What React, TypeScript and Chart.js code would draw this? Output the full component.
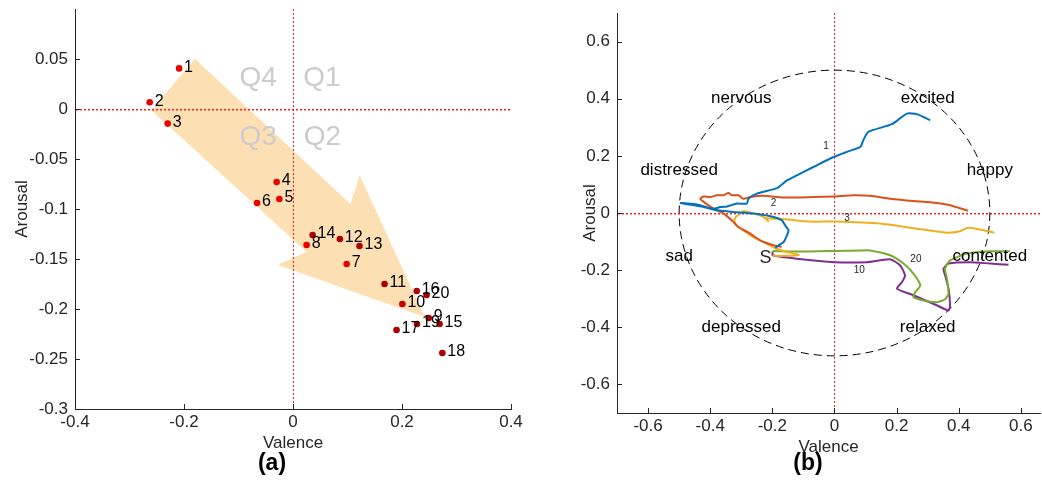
import React, { useEffect, useRef } from 'react';
import { Chart, registerables } from 'chart.js';

Chart.register(...registerables);

const FONT_FAMILY = "'Liberation Sans', Arial, Helvetica, sans-serif";
const AXIS_COLOR = 'rgb(38,38,38)';
const ZERO_LINE_COLOR = 'rgb(255,30,30)';
const ARROW_COLOR = 'rgb(253,223,180)';

// ---------------- Panel (a) ----------------
const sessionLabels = ['1', '2', '3', '4', '5', '6', '7', '8', '9', '10', '11', '12', '13', '14', '15', '16', '17', '18', '19', '20'];
const sessionValence = [-0.209, -0.263, -0.23, -0.03, -0.025, -0.066, 0.0985, 0.025, 0.249, 0.2007, 0.168, 0.086, 0.122, 0.036, 0.269, 0.227, 0.19, 0.274, 0.2275, 0.245];
const sessionArousal = [0.0406, 0.0067, -0.0146, -0.073, -0.09, -0.094, -0.155, -0.136, -0.209, -0.195, -0.175, -0.13, -0.137, -0.126, -0.215, -0.182, -0.221, -0.244, -0.215, -0.186];
const sessionColors = [
  'rgb(235,0,0)', 'rgb(235,0,0)', 'rgb(235,0,0)', 'rgb(235,0,0)', 'rgb(235,0,0)', 'rgb(235,0,0)', 'rgb(235,0,0)', 'rgb(230,0,0)',
  'rgb(175,0,0)', 'rgb(200,0,0)', 'rgb(175,0,0)', 'rgb(175,0,0)', 'rgb(175,0,0)', 'rgb(175,0,0)', 'rgb(175,0,0)', 'rgb(175,0,0)',
  'rgb(175,0,0)', 'rgb(175,0,0)', 'rgb(175,0,0)', 'rgb(175,0,0)',
];

const arrowValence = [-0.18, -0.26, 0.0246, -0.0275, 0.2416, 0.1224, 0.1053];
const arrowArousal = [0.0503, -0.0013, -0.1427, -0.156, -0.208, -0.0662, -0.0951];

const quadrantLabels = ['Q4', 'Q1', 'Q3', 'Q2'];
const quadrantValence = [-0.064, 0.053, -0.064, 0.054];
const quadrantArousal = [0.031, 0.031, -0.0287, -0.0287];

const aXTicks = [-0.4, -0.2, 0, 0.2, 0.4];
const aXTickLabels = ['-0.4', '-0.2', '0', '0.2', '0.4'];
const aYTicks = [-0.3, -0.25, -0.2, -0.15, -0.1, -0.05, 0, 0.05];
const aYTickLabels = ['-0.3', '-0.25', '-0.2', '-0.15', '-0.1', '-0.05', '0', '0.05'];

// ---------------- Panel (b) ----------------
const trajectory1: [number, number][] = [
  [-0.191, -0.122], [-0.175, -0.11], [-0.164, -0.102], [-0.153, -0.078], [-0.148, -0.061], [-0.159, -0.043],
  [-0.169, -0.026], [-0.196, -0.014], [-0.261, -0.002], [-0.325, 0.0035], [-0.378, 0.0095], [-0.421, 0.021],
  [-0.495, 0.035], [-0.443, 0.03], [-0.389, 0.015], [-0.368, 0.021], [-0.346, 0.023], [-0.314, 0.033],
  [-0.282, 0.033], [-0.277, 0.05], [-0.25, 0.068], [-0.185, 0.087], [-0.153, 0.114], [-0.121, 0.132],
  [-0.068, 0.161], [-0.003, 0.196], [0.04, 0.214], [0.083, 0.231], [0.093, 0.255], [0.109, 0.284],
  [0.185, 0.311], [0.233, 0.348], [0.265, 0.346], [0.308, 0.325],
];
const trajectory2: [number, number][] = [
  [-0.17, -0.118], [-0.196, -0.113], [-0.239, -0.096], [-0.271, -0.072], [-0.309, -0.049], [-0.33, -0.026],
  [-0.357, -0.002], [-0.389, 0.015], [-0.421, 0.039], [-0.432, 0.05], [-0.421, 0.058], [-0.4, 0.056],
  [-0.378, 0.062], [-0.357, 0.062], [-0.341, 0.07], [-0.33, 0.062], [-0.309, 0.062], [-0.293, 0.05],
  [-0.271, 0.056], [-0.228, 0.06], [-0.164, 0.054], [-0.068, 0.056], [-0.003, 0.058], [0.061, 0.062],
  [0.115, 0.06], [0.179, 0.05], [0.254, 0.042], [0.308, 0.038], [0.366, 0.029], [0.43, 0.008],
];
const trajectory3: [number, number][] = [
  [-0.199, -0.15], [-0.16, -0.15], [-0.115, -0.147], [-0.15, -0.137], [-0.186, -0.125], [-0.21, -0.112],
  [-0.239, -0.096], [-0.271, -0.078], [-0.293, -0.061], [-0.315, -0.045], [-0.322, -0.03], [-0.318, -0.014],
  [-0.305, -0.004], [-0.293, 0.007], [-0.26, -0.002], [-0.228, -0.014], [-0.213, -0.029], [-0.22, -0.018],
  [-0.2, -0.02], [-0.175, -0.02], [-0.078, -0.03], [0, -0.03], [0.147, -0.037], [0.254, -0.053],
  [0.361, -0.069], [0.404, -0.064], [0.426, -0.053], [0.447, -0.053], [0.515, -0.069],
];
const trajectory20: [number, number][] = [
  [-0.199, -0.133], [-0.1, -0.135], [0, -0.133], [0.083, -0.131], [0.114, -0.131], [0.179, -0.148],
  [0.222, -0.177], [0.254, -0.212], [0.276, -0.253], [0.26, -0.277], [0.254, -0.294], [0.286, -0.306],
  [0.33, -0.312], [0.356, -0.302], [0.367, -0.282], [0.362, -0.23], [0.356, -0.195], [0.372, -0.166],
  [0.426, -0.142], [0.501, -0.134], [0.565, -0.134],
];
const trajectory10: [number, number][] = [
  [-0.199, -0.135], [-0.199, -0.148], [-0.121, -0.16], [0, -0.172], [0.104, -0.172], [0.179, -0.162],
  [0.211, -0.183], [0.227, -0.218], [0.217, -0.242], [0.201, -0.265], [0.254, -0.288], [0.329, -0.323],
  [0.367, -0.341], [0.372, -0.323], [0.367, -0.265], [0.356, -0.218], [0.351, -0.195], [0.367, -0.177],
  [0.437, -0.172], [0.501, -0.177], [0.56, -0.181],
];
const trajectoryColors = ['rgb(0,114,189)', 'rgb(217,83,25)', 'rgb(237,177,32)', 'rgb(119,172,48)', 'rgb(126,47,142)'];

const trajectoryTags = ['1', '2', '3', '20', '10'];
const tagValence = [-0.027, -0.196, 0.04, 0.262, 0.08];
const tagArousal = [0.235, 0.033, -0.0175, -0.161, -0.201];

const emotionWords = ['nervous', 'excited', 'distressed', 'happy', 'sad', 'contented', 'depressed', 'relaxed'];
const emotionValence = [-0.3, 0.3, -0.5, 0.5, -0.5, 0.5, -0.3, 0.3];
const emotionArousal = [0.4, 0.4, 0.15, 0.15, -0.15, -0.15, -0.4, -0.4];

const startLabel = 'S';
const startValence = -0.222;
const startArousal = -0.158;

const CIRCLE_RADIUS = 0.5;

const bTicks = [-0.6, -0.4, -0.2, 0, 0.2, 0.4, 0.6];
const bTickLabels = ['-0.6', '-0.4', '-0.2', '0', '0.2', '0.4', '0.6'];

// ---------------- helpers ----------------
function fixedAxis(o: any) {
  return {
    type: 'linear',
    min: o.min,
    max: o.max,
    position: o.horizontal ? 'bottom' : 'left',
    grid: { display: false, drawTicks: false },
    border: { display: true, color: AXIS_COLOR, width: 1 },
    ticks: {
      padding: o.tickPadding,
      color: AXIS_COLOR,
      autoSkip: false,
      maxRotation: 0,
      minRotation: 0,
      font: { family: FONT_FAMILY, size: 17 },
      callback: (_v: any, i: number) => o.labels[i],
    },
    title: {
      display: true,
      text: o.title,
      color: AXIS_COLOR,
      font: { family: FONT_FAMILY, size: 17 },
      padding: o.horizontal ? { top: 0, bottom: o.titlePadding } : { top: o.titlePadding, bottom: 0 },
    },
    afterBuildTicks: (s: any) => {
      s.ticks = o.ticks.map((v: number) => ({ value: v }));
    },
    afterFit: (s: any) => {
      if (o.horizontal) s.height = o.size;
      else s.width = o.size;
      s.paddingLeft = 0;
      s.paddingRight = 0;
      s.paddingTop = 0;
      s.paddingBottom = 0;
    },
  };
}

function drawZeroLines(chart: any) {
  const { ctx, chartArea: a, scales } = chart;
  const x0 = Math.round(scales.x.getPixelForValue(0)) + 0.5;
  const y0 = Math.round(scales.y.getPixelForValue(0));
  ctx.save();
  ctx.strokeStyle = ZERO_LINE_COLOR;
  ctx.lineWidth = 1;
  ctx.setLineDash([2, 2]);
  ctx.beginPath();
  ctx.moveTo(x0, a.top);
  ctx.lineTo(x0, a.bottom);
  ctx.stroke();
  // horizontal zero line: small filled dashes so the red survives at 1px height
  ctx.fillStyle = ZERO_LINE_COLOR;
  for (let px = Math.round(a.left) + 1; px < a.right; px += 4) {
    ctx.fillRect(px, y0, 2, 1.5);
  }
  ctx.restore();
}

const inwardTicks = {
  id: 'inwardTicks',
  afterDatasetsDraw(chart: any) {
    const { ctx, chartArea: a, scales } = chart;
    ctx.save();
    ctx.strokeStyle = AXIS_COLOR;
    ctx.lineWidth = 1;
    ctx.beginPath();
    scales.x.ticks.forEach((t: any) => {
      const px = Math.round(scales.x.getPixelForValue(t.value)) + 0.5;
      ctx.moveTo(px, a.bottom);
      ctx.lineTo(px, a.bottom - 5);
    });
    scales.y.ticks.forEach((t: any) => {
      const py = Math.round(scales.y.getPixelForValue(t.value)) + 0.5;
      ctx.moveTo(a.left, py);
      ctx.lineTo(a.left + 5, py);
    });
    ctx.stroke();
    ctx.restore();
  },
};

function drawTexts(chart: any, words: string[], xs: number[], ys: number[], font: string, color: string, align: string, dx = 0, dy = 0) {
  const { ctx, scales } = chart;
  ctx.save();
  ctx.font = font;
  ctx.fillStyle = color;
  ctx.textAlign = align;
  ctx.textBaseline = 'middle';
  words.forEach((w, i) => {
    ctx.fillText(w, scales.x.getPixelForValue(xs[i]) + dx, scales.y.getPixelForValue(ys[i]) + dy);
  });
  ctx.restore();
}

const panelAOverlay = {
  id: 'panelAOverlay',
  afterDatasetDraw(chart: any, args: any) {
    if (args.index !== 0) return;
    drawZeroLines(chart);
    drawTexts(chart, quadrantLabels, quadrantValence, quadrantArousal, `28px ${FONT_FAMILY}`, 'rgb(204,204,204)', 'center');
  },
  afterDatasetsDraw(chart: any) {
    drawTexts(chart, sessionLabels, sessionValence, sessionArousal, `16px ${FONT_FAMILY}`, '#000', 'left', 5, -1);
  },
};

const panelBOverlay = {
  id: 'panelBOverlay',
  beforeDatasetsDraw(chart: any) {
    drawZeroLines(chart);
    const { ctx, scales } = chart;
    const cx = scales.x.getPixelForValue(0);
    const cy = scales.y.getPixelForValue(0);
    const rx = scales.x.getPixelForValue(CIRCLE_RADIUS) - cx;
    const ry = cy - scales.y.getPixelForValue(CIRCLE_RADIUS);
    ctx.save();
    ctx.strokeStyle = '#000';
    ctx.lineWidth = 1;
    ctx.setLineDash([8, 5]);
    ctx.beginPath();
    ctx.ellipse(cx, cy, rx, ry, 0, 0, Math.PI * 2);
    ctx.stroke();
    ctx.restore();
  },
  afterDatasetsDraw(chart: any) {
    drawTexts(chart, emotionWords, emotionValence, emotionArousal, `17px ${FONT_FAMILY}`, '#000', 'center');
    drawTexts(chart, trajectoryTags, tagValence, tagArousal, `10px ${FONT_FAMILY}`, AXIS_COLOR, 'center');
    drawTexts(chart, [startLabel], [startValence], [startArousal], `18px ${FONT_FAMILY}`, AXIS_COLOR, 'center');
  },
};

function toPoints(t: [number, number][]) {
  return t.map(([x, y]) => ({ x, y }));
}

function PanelA() {
  const ref = useRef<HTMLCanvasElement>(null);
  useEffect(() => {
    const chart = new Chart(ref.current as HTMLCanvasElement, {
      type: 'scatter',
      data: {
        datasets: [
          {
            label: 'arrow',
            data: arrowValence.map((x, i) => ({ x, y: arrowArousal[i] })),
            showLine: true,
            fill: 'shape',
            backgroundColor: ARROW_COLOR,
            borderColor: 'rgba(0,0,0,0)',
            borderWidth: 0,
            pointRadius: 0,
            order: 2,
          } as any,
          {
            label: 'sessions',
            data: sessionValence.map((x, i) => ({ x, y: sessionArousal[i] })),
            pointRadius: 3.3,
            pointBackgroundColor: sessionColors,
            pointBorderWidth: 0,
            pointBorderColor: 'rgba(0,0,0,0)',
            order: 1,
          } as any,
        ],
      },
      options: {
        responsive: false,
        animation: false,
        events: [],
        layout: { padding: { left: 0, top: 9, right: 19, bottom: 6 } },
        plugins: { legend: { display: false }, tooltip: { enabled: false } },
        scales: {
          x: fixedAxis({ min: -0.4, max: 0.4, ticks: aXTicks, labels: aXTickLabels, title: 'Valence', titlePadding: 0, size: 45, horizontal: true, tickPadding: 3 }),
          y: fixedAxis({ min: -0.3, max: 0.1, ticks: aYTicks, labels: aYTickLabels, title: 'Arousal', titlePadding: 12, size: 75, horizontal: false, tickPadding: 7 }),
        } as any,
      },
      plugins: [panelAOverlay, inwardTicks],
    } as any);
    return () => chart.destroy();
  }, []);
  return <canvas ref={ref} width={530} height={460} style={{ position: 'absolute', left: 0, top: 0, width: 530, height: 460 }} />;
}

function PanelB() {
  const ref = useRef<HTMLCanvasElement>(null);
  useEffect(() => {
    const series = [trajectory1, trajectory2, trajectory3, trajectory20, trajectory10];
    const chart = new Chart(ref.current as HTMLCanvasElement, {
      type: 'scatter',
      data: {
        datasets: series.map((t, i) => ({
          label: trajectoryTags[i],
          data: toPoints(t),
          showLine: true,
          borderColor: trajectoryColors[i],
          borderWidth: 2,
          tension: 0.2,
          pointRadius: 0,
          fill: false,
        })) as any,
      },
      options: {
        responsive: false,
        animation: false,
        events: [],
        layout: { padding: { left: 0, top: 13, right: 2, bottom: 2 } },
        plugins: { legend: { display: false }, tooltip: { enabled: false } },
        scales: {
          x: fixedAxis({ min: -0.7, max: 0.6615, ticks: bTicks, labels: bTickLabels, title: 'Valence', titlePadding: 0, size: 45, horizontal: true, tickPadding: 3 }),
          y: fixedAxis({ min: -0.7, max: 0.7, ticks: bTicks, labels: bTickLabels, title: 'Arousal', titlePadding: 40, size: 77, horizontal: false, tickPadding: 7 }),
        } as any,
      },
      plugins: [panelBOverlay, inwardTicks],
    } as any);
    return () => chart.destroy();
  }, []);
  return <canvas ref={ref} width={502} height={460} style={{ position: 'absolute', left: 540, top: 0, width: 502, height: 460 }} />;
}

const captionStyle: React.CSSProperties = {
  position: 'absolute',
  top: 462,
  transform: 'translate(-50%, -50%)',
  font: `bold 23px ${FONT_FAMILY}`,
  color: '#000',
  whiteSpace: 'nowrap',
};

export default function App() {
  return (
    <div style={{ position: 'absolute', left: 0, top: 0, width: 1042, height: 500, background: '#fff', overflow: 'hidden' }}>
      <PanelA />
      <PanelB />
      <div style={{ ...captionStyle, left: 272 }}>(a)</div>
      <div style={{ ...captionStyle, left: 808 }}>(b)</div>
    </div>
  );
}
